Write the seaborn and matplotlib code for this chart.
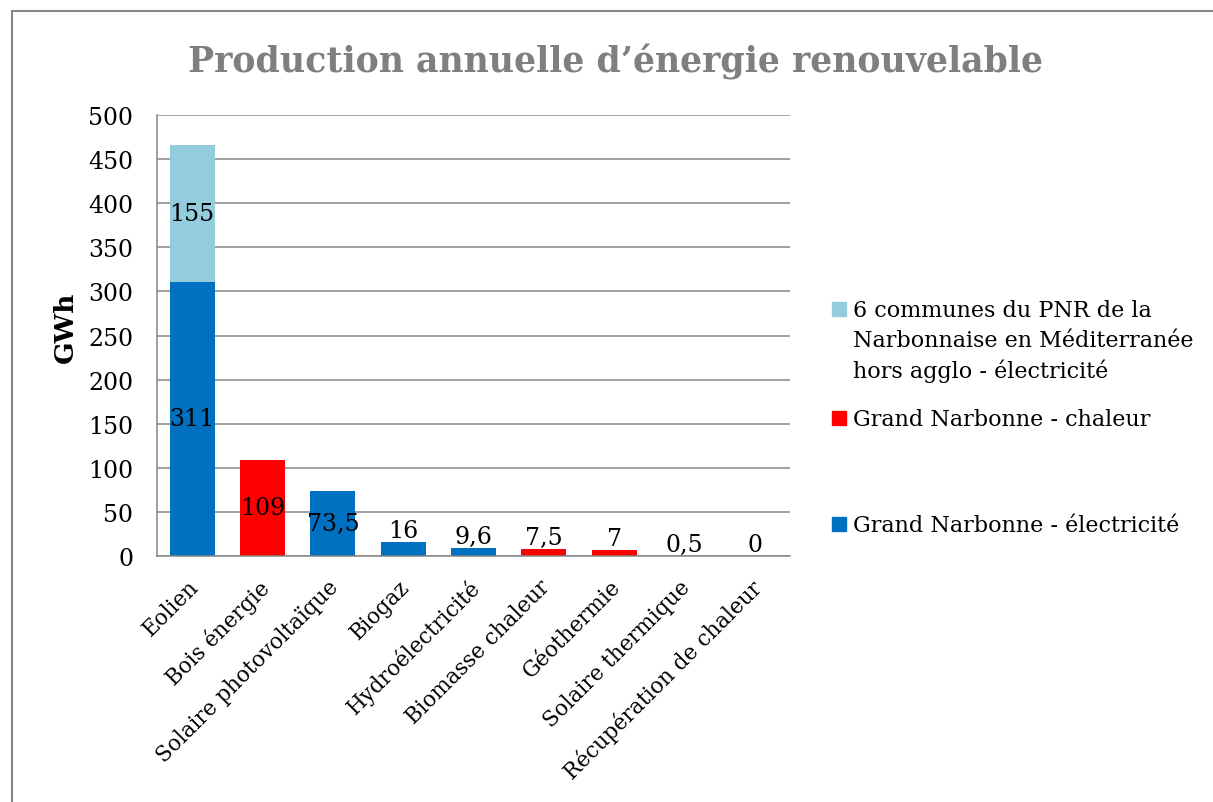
import matplotlib
matplotlib.use("Agg")
import matplotlib.pyplot as plt
import matplotlib.transforms as mtransforms
from matplotlib.patches import Rectangle
from matplotlib.lines import Line2D
import seaborn as sns
import pandas as pd

# data
categories = ["Eolien", "Bois énergie", "Solaire photovoltaïque", "Biogaz",
              "Hydroélectricité", "Biomasse chaleur", "Géothermie",
              "Solaire thermique", "Récupération de chaleur"]
grand_narbonne = [311, 109, 73.5, 16, 9.6, 7.5, 7, 0.5, 0]
energy_type = ["électricité", "chaleur", "électricité", "électricité", "électricité",
               "chaleur", "chaleur", "chaleur", "chaleur"]
pnr_communes = [155, 0, 0, 0, 0, 0, 0, 0, 0]

legend_labels = ["6 communes du PNR de la\nNarbonnaise en Méditerranée\nhors agglo - électricité",
                 "Grand Narbonne - chaleur",
                 "Grand Narbonne - électricité"]

c_elec = "#0070C0"
c_heat = "#FF0000"
c_pnr = "#93CDDD"
grey = "#868686"

sns.set_theme(style="white")
plt.rcParams["font.family"] = ["DejaVu Serif"]
plt.rcParams.update({"text.color": "black", "axes.labelcolor": "black",
                     "xtick.color": "black", "ytick.color": "black"})

df = pd.DataFrame({"cat": categories, "gn": grand_narbonne, "type": energy_type,
                   "pnr": pnr_communes})
df["total"] = df["gn"] + df["pnr"]

fig = plt.figure(figsize=(12.13, 8.03), dpi=100)
ax = fig.add_axes([157 / 1213, 1 - 557 / 803, (790 - 157) / 1213, (557 - 116) / 803])

bw = 0.64
# totals first (light blue), then the Grand Narbonne part over it
sns.barplot(data=df, x="cat", y="total", color=c_pnr, width=bw, saturation=1,
            linewidth=0, ax=ax)
sns.barplot(data=df, x="cat", y="gn", hue="type", dodge=False, width=bw, saturation=1,
            palette={"électricité": c_elec, "chaleur": c_heat}, legend=False,
            linewidth=0, ax=ax)

ax.set_ylim(0, 500)
ax.set_xlim(-0.5, len(categories) - 0.5)
ax.set_yticks(range(0, 501, 50))
ax.yaxis.grid(True, color=grey, linewidth=1.1)
ax.set_axisbelow(True)
for s in ["top", "right"]:
    ax.spines[s].set_visible(False)
for s in ["left", "bottom"]:
    ax.spines[s].set_color(grey)
    ax.spines[s].set_linewidth(1.1)

fs = 17
ax.tick_params(axis="y", length=0, pad=17, labelsize=fs)
ax.tick_params(axis="x", length=0, pad=14, labelsize=15.5)
ax.set_xticks(range(len(categories)))
ax.set_xticklabels(categories, rotation=45, ha="right", rotation_mode="anchor")
shift = mtransforms.ScaledTranslation(-5 / 100, 0, fig.dpi_scale_trans)
for lab in ax.get_xticklabels():
    lab.set_transform(lab.get_transform() + shift)
ax.set_xlabel("")
ax.set_ylabel("GWh", fontsize=19, fontweight="bold")
ax.yaxis.set_label_coords(-0.125, 0.52)


def fmt(v):
    return ("%g" % v).replace(".", ",")


# data labels
for i, (g, p) in enumerate(zip(grand_narbonne, pnr_communes)):
    if g >= 50:
        ax.text(i, g / 2, fmt(g), ha="center", va="center", fontsize=fs)
    else:
        ax.text(i, g, fmt(g), ha="center", va="bottom", fontsize=fs)
    if p > 0:
        ax.text(i, g + p / 2, fmt(p), ha="center", va="center", fontsize=fs)

fig.text(616 / 1213, 1 - 62 / 803, "Production annuelle d\u2019énergie renouvelable",
         ha="center", va="center", fontsize=25, fontweight="bold", color="#7F7F7F")

# legend, laid out like the original
leg_colors = [c_pnr, c_heat, c_elec]
leg_y = [310, 419, 525]
for col, lab, y in zip(leg_colors, legend_labels, leg_y):
    fig.add_artist(Rectangle((832 / 1213, 1 - (y + 7) / 803), 14 / 1213, 14 / 803,
                             transform=fig.transFigure, color=col))
    fig.text(853 / 1213, 1 - (y - 10) / 803, lab, ha="left", va="top",
             fontsize=16, linespacing=1.45)

# chart frame
fig.add_artist(Line2D([12 / 1213, 1.0], [1 - 12 / 803] * 2, transform=fig.transFigure,
                      color=grey, linewidth=1.5))
fig.add_artist(Line2D([12 / 1213] * 2, [0.0, 1 - 12 / 803], transform=fig.transFigure,
                      color=grey, linewidth=1.5))

fig.savefig("out.png", dpi=100)
